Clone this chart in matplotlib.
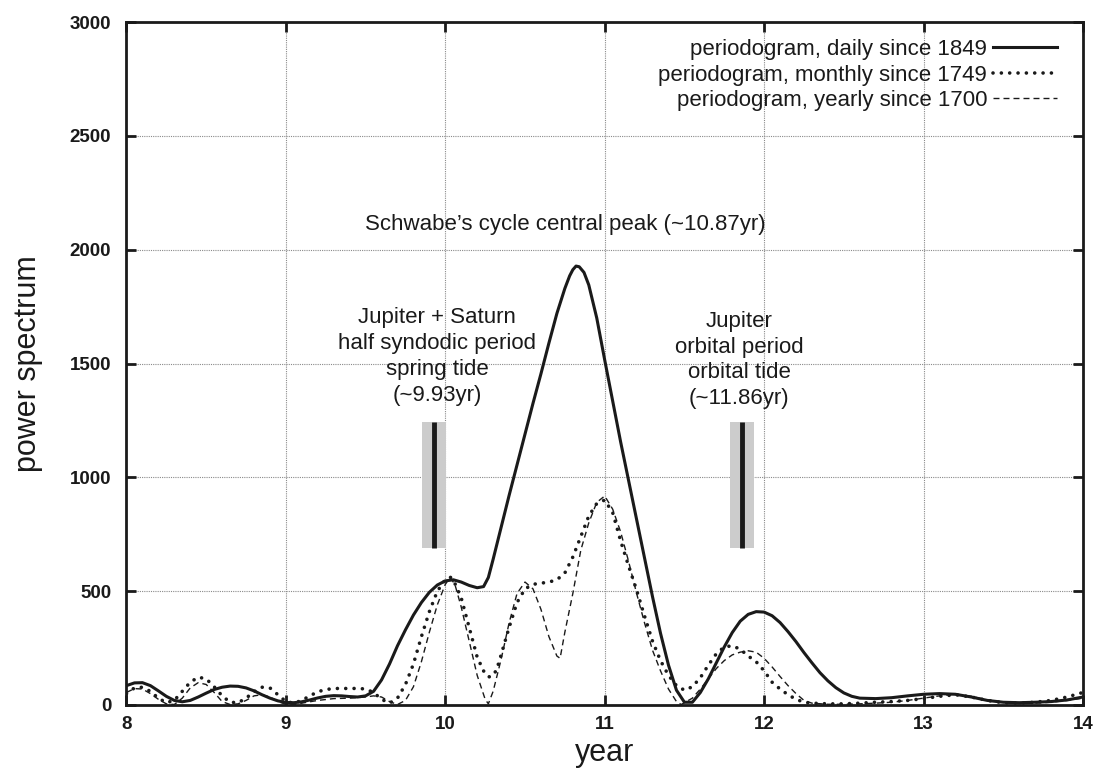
import matplotlib
matplotlib.use("Agg")
import matplotlib.pyplot as plt
from matplotlib.patches import Rectangle

plt.rcParams["font.family"] = ["Liberation Sans", "DejaVu Sans"]

# ---- periodogram, daily record since 1849 ----
daily_year = [8.00, 8.05, 8.10, 8.15, 8.20, 8.25, 8.30, 8.35, 8.40, 8.45, 8.50, 8.55, 8.60,
              8.65, 8.70, 8.75, 8.80, 8.85, 8.90, 8.95, 9.00, 9.05, 9.10, 9.15, 9.20, 9.25,
              9.30, 9.35, 9.40, 9.45, 9.50, 9.55, 9.60, 9.65, 9.70, 9.75, 9.80, 9.85, 9.90,
              9.95, 10.00, 10.05, 10.10, 10.15, 10.20, 10.24, 10.27, 10.30, 10.35, 10.40,
              10.45, 10.50, 10.55, 10.60, 10.65, 10.70, 10.75, 10.78, 10.80, 10.82, 10.84,
              10.87, 10.90, 10.95, 11.00, 11.05, 11.10, 11.15, 11.20, 11.25, 11.30, 11.35,
              11.40, 11.45, 11.50, 11.55, 11.60, 11.65, 11.70, 11.75, 11.80, 11.85, 11.90,
              11.95, 12.00, 12.05, 12.10, 12.15, 12.20, 12.25, 12.30, 12.35, 12.40, 12.45,
              12.50, 12.55, 12.60, 12.70, 12.80, 12.90, 13.00, 13.10, 13.20, 13.30, 13.40,
              13.50, 13.60, 13.70, 13.80, 13.90, 14.00]
daily_power = [85, 97, 98, 85, 62, 38, 20, 14, 20, 35, 52, 68, 78,
               83, 82, 75, 62, 45, 30, 18, 11, 10, 14, 22, 31, 38,
               41, 40, 37, 35, 40, 60, 110, 180, 260, 330, 395, 450, 495,
               527, 545, 550, 540, 525, 515, 520, 560, 640, 780, 920,
               1055, 1190, 1325, 1455, 1590, 1720, 1830, 1885, 1912, 1928, 1925,
               1900, 1845, 1700, 1515, 1335, 1155, 985, 815, 645, 475, 315,
               175, 65, 12, 12, 55, 115, 185, 255, 318, 368, 398,
               410, 408, 392, 362, 322, 278, 230, 185, 142, 106, 76,
               53, 38, 30, 28, 32, 40, 47, 50, 47, 35, 20,
               12, 10, 12, 15, 22, 35]

# ---- periodogram, monthly record since 1749 ----
monthly_year = [8.00, 8.05, 8.10, 8.15, 8.20, 8.25, 8.30, 8.35, 8.40, 8.45, 8.50, 8.55, 8.60,
                8.65, 8.70, 8.75, 8.80, 8.85, 8.90, 8.95, 9.00, 9.05, 9.10, 9.15, 9.20, 9.25,
                9.30, 9.35, 9.40, 9.45, 9.50, 9.55, 9.60, 9.65, 9.70, 9.75, 9.80, 9.85, 9.90,
                9.95, 10.00, 10.03, 10.05, 10.10, 10.15, 10.20, 10.25, 10.28, 10.32, 10.35,
                10.40, 10.45, 10.50, 10.55, 10.60, 10.65, 10.70, 10.75, 10.80, 10.85, 10.90,
                10.95, 11.00, 11.05, 11.10, 11.15, 11.20, 11.25, 11.30, 11.35, 11.40, 11.45,
                11.50, 11.55, 11.60, 11.65, 11.70, 11.75, 11.80, 11.85, 11.90, 11.95, 12.00,
                12.05, 12.10, 12.15, 12.20, 12.25, 12.30, 12.40, 12.50, 12.60, 12.70, 12.80,
                12.90, 13.00, 13.10, 13.20, 13.30, 13.40, 13.50, 13.60, 13.70, 13.80, 13.90,
                14.00]
monthly_power = [50, 75, 78, 60, 30, 10, 20, 60, 100, 122, 115, 80, 40,
                 12, 10, 30, 58, 78, 75, 45, 15, 8, 20, 40, 58, 68,
                 72, 73, 72, 73, 70, 55, 25, 8, 30, 90, 180, 300, 410,
                 500, 550, 562, 550, 470, 340, 210, 135, 122, 150, 220,
                 340, 450, 510, 530, 535, 540, 550, 580, 650, 740, 830,
                 885, 900, 845, 720, 610, 505, 390, 280, 195, 130, 85,
                 65, 80, 120, 175, 225, 255, 260, 245, 215, 190, 150,
                 100, 70, 45, 25, 12, 8, 5, 5, 8, 12, 15,
                 20, 28, 38, 45, 35, 20, 10, 8, 12, 20, 35,
                 55]

# ---- periodogram, yearly record since 1700 ----
yearly_year = [8.00, 8.05, 8.10, 8.15, 8.20, 8.25, 8.30, 8.35, 8.40, 8.45, 8.50, 8.55, 8.60,
               8.65, 8.70, 8.75, 8.80, 8.85, 8.90, 8.95, 9.00, 9.05, 9.10, 9.20, 9.30, 9.40,
               9.50, 9.55, 9.60, 9.65, 9.70, 9.75, 9.80, 9.85, 9.90, 9.95, 10.00, 10.03,
               10.06, 10.10, 10.15, 10.20, 10.25, 10.27, 10.30, 10.35, 10.40, 10.45, 10.50,
               10.55, 10.60, 10.65, 10.70, 10.72, 10.75, 10.80, 10.85, 10.90, 10.95, 11.00,
               11.05, 11.10, 11.15, 11.20, 11.25, 11.30, 11.35, 11.40, 11.45, 11.48, 11.55,
               11.60, 11.65, 11.70, 11.75, 11.80, 11.85, 11.90, 11.95, 12.00, 12.05, 12.10,
               12.15, 12.20, 12.25, 12.30, 12.40, 12.50, 12.60, 12.70, 12.80, 12.90, 13.00,
               13.10, 13.20, 13.30, 13.40, 13.50, 13.60, 13.70, 13.80, 13.90, 14.00]
yearly_power = [55, 72, 70, 50, 25, 5, 2, 30, 75, 98, 90, 55, 15,
                2, 5, 20, 40, 45, 35, 15, 3, 2, 8, 20, 28, 30,
                35, 40, 35, 15, 2, 20, 80, 190, 320, 440, 530, 560,
                530, 430, 280, 130, 25, 5, 60, 200, 360, 490, 540,
                510, 420, 300, 215, 205, 320, 490, 680, 800, 890, 918,
                860, 760, 630, 490, 360, 240, 150, 70, 15, 2, 30,
                70, 115, 160, 195, 220, 232, 238, 232, 205, 167, 125,
                85, 50, 20, 8, 3, 3, 5, 8, 12, 20, 30,
                40, 48, 38, 22, 10, 6, 8, 12, 20, 30]

# planetary tidal periods (years) marked with shaded bars
tide_periods = [9.93, 11.86]
tide_band = [690, 1245]

x_ticks = [8, 9, 10, 11, 12, 13, 14]
y_ticks = [0, 500, 1000, 1500, 2000, 2500, 3000]

fig = plt.figure(figsize=(10.97, 7.73), dpi=100)
ax = fig.add_axes([0.1153, 0.088, 0.8719, 0.8835])

ink = "#1a1a1a"

for p in tide_periods:
    ax.add_patch(Rectangle((p - 0.075, tide_band[0]), 0.15, tide_band[1] - tide_band[0],
                           facecolor="#cccccc", edgecolor="none", zorder=1))
    ax.plot([p, p], tide_band, color=ink, lw=3.5, solid_capstyle="butt", zorder=2)

ax.plot(daily_year, daily_power, color=ink, lw=2.2, solid_joinstyle="round",
        label="periodogram, daily since 1849", zorder=4)
ax.plot(monthly_year, monthly_power, color=ink, lw=2.6, linestyle=(0, (0.01, 2.3)),
        dash_capstyle="round", label="periodogram, monthly since 1749", zorder=3)
ax.plot(yearly_year, yearly_power, color=ink, lw=1.0, linestyle=(0, (4.3, 2.9)),
        label="periodogram, yearly since 1700", zorder=3)

ax.set_xlim(8, 14)
ax.set_ylim(0, 3000)
ax.set_xticks(x_ticks)
ax.set_yticks(y_ticks)
ax.set_xticklabels([str(t) for t in x_ticks], fontweight="bold", fontsize=13.5)
ax.set_yticklabels([str(t) for t in y_ticks], fontweight="bold", fontsize=13.5)
ax.tick_params(axis="both", direction="in", length=7, width=2, colors=ink,
               top=True, right=True)
ax.tick_params(axis="x", pad=8)
ax.tick_params(axis="y", pad=11)
for s in ax.spines.values():
    s.set_linewidth(2.0)
    s.set_color(ink)
ax.grid(True, color="#8a8a8a", lw=0.8, linestyle=(0, (1, 1)))
ax.set_axisbelow(True)

ax.set_xlabel("year", fontsize=22, color=ink)
ax.set_ylabel("power spectrum", fontsize=22, color=ink)
ax.xaxis.set_label_coords(0.5, -0.048)
ax.yaxis.set_label_coords(-0.087, 0.5)

txt = dict(fontsize=16, color=ink, ha="center", va="center", linespacing=1.3)
ax.text(10.75, 2110, "Schwabe\u2019s cycle central peak (~10.87yr)", **txt)
ax.text(9.95, 1530, "Jupiter + Saturn\nhalf syndodic period\nspring tide\n(~9.93yr)", **txt)
ax.text(11.845, 1515, "Jupiter\norbital period\norbital tide\n(~11.86yr)", **txt)

leg = ax.legend(loc="upper right", frameon=False, markerfirst=False, fontsize=16,
                handlelength=2.9, handletextpad=0.25, labelspacing=0.2,
                borderpad=0, borderaxespad=0, bbox_to_anchor=(0.973, 0.975))
for t in leg.get_texts():
    t.set_color(ink)

fig.savefig("out.png", dpi=100)
